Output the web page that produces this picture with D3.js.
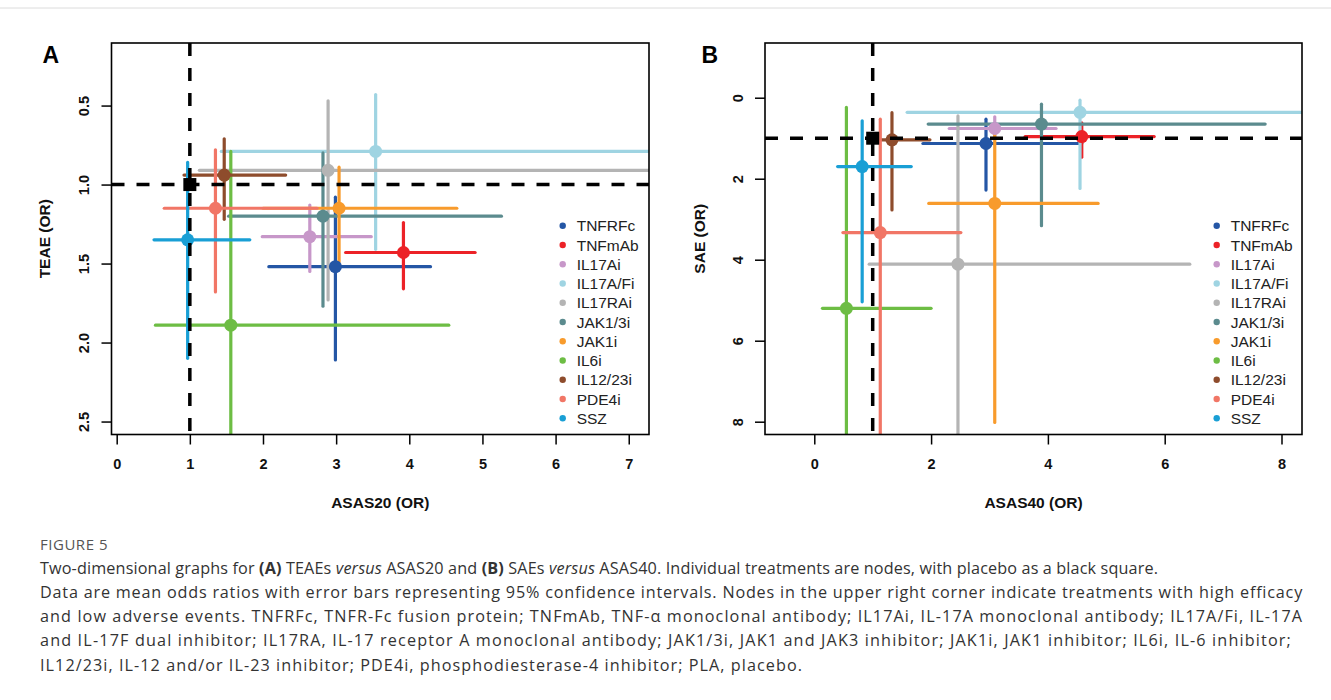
<!DOCTYPE html>
<html>
<head>
<meta charset="utf-8">
<script src="https://cdn.jsdelivr.net/npm/d3@7"></script>
<style>
  html, body { margin: 0; padding: 0; background: #fff; }
  svg { display: block; }
</style>
</head>
<body>
<div id="chart"></div>
<script>
// ---------- DATA ----------
const treatments = ["TNFRFc", "TNFmAb", "IL17Ai", "IL17A/Fi", "IL17RAi", "JAK1/3i", "JAK1i", "IL6i", "IL12/23i", "PDE4i", "SSZ"];
const colors = ["#2456a5", "#ec2227", "#c797c9", "#9fd4e2", "#b4b4b4", "#5b8b8e", "#f89b2c", "#6dbd44", "#8e4c2c", "#f17666", "#199fd5"];

// Panel A: ASAS20 (x) vs TEAE (y), odds ratios with 95% CI
const asas20   = [2.99, 3.92, 2.64, 3.54, 2.89, 2.82, 3.04, 1.56, 1.47, 1.35, 0.97];
const asas20Lo = [2.08, 3.13, 1.99, 1.43, 1.13, 1.53, 2.00, 0.53, 0.92, 0.65, 0.51];
const asas20Hi = [4.29, 4.90, 3.48, 9.00, 8.50, 5.26, 4.65, 4.54, 2.31, 2.74, 1.82];
const teae     = [1.52, 1.43, 1.33, 0.79, 0.91, 1.20, 1.15, 1.89, 0.94, 1.15, 1.35];
const teaeLo   = [1.08, 1.24, 1.13, 0.43, 0.47, 0.80, 0.89, 0.79, 0.71, 0.78, 0.86];
const teaeHi   = [2.11, 1.66, 1.55, 1.41, 1.73, 1.77, 1.49, 3.20, 1.22, 1.68, 2.10];

// Panel B: ASAS40 (x) vs SAE (y)
const asas40   = [2.94, 4.58, 3.09, 4.55, 2.46, 3.89, 3.09, 0.55, 1.33, 1.13, 0.82];
const asas40Lo = [1.86, 3.61, 2.31, 1.59, 0.94, 1.95, 1.96, 0.14, 0.95, 0.49, 0.40];
const asas40Hi = [4.58, 5.82, 4.14, 12.0, 6.43, 7.72, 4.86, 2.00, 1.98, 2.51, 1.66];
const sae      = [1.13, 0.96, 0.76, 0.36, 4.11, 0.65, 2.61, 5.20, 1.04, 3.33, 1.70];
const saeLo    = [0.53, 0.62, 0.47, 0.06, 0.45, 0.16, 0.84, 0.24, 0.37, 0.53, 0.57];
const saeHi    = [2.28, 1.47, 0.95, 2.24, 12.0, 3.16, 8.02, 12.0, 2.77, 12.0, 5.04];

const placebo = [1, 1];

const xTicksA = [0, 1, 2, 3, 4, 5, 6, 7];
const yTicksA = [0.5, 1.0, 1.5, 2.0, 2.5];
const yTickLabelsA = ["0.5", "1.0", "1.5", "2.0", "2.5"];
const xTicksB = [0, 2, 4, 6, 8];
const yTicksB = [0, 2, 4, 6, 8];

const captionTitle = "FIGURE 5";

// ---------- DRAW ----------
const W = 1331, H = 700;
const svg = d3.select("#chart").append("svg").attr("width", W).attr("height", H);
const FONT = "'Liberation Sans', Arial, sans-serif";

svg.append("line").attr("x1", 0).attr("x2", W).attr("y1", 8).attr("y2", 8)
  .attr("stroke", "#dcdcdc").attr("stroke-width", 1);

function panel(cfg) {
  const { id, box, xDom, yDom, xs, xLo, xHi, ys, yLo, yHi, xTicks, yTicks, yTickLabels,
          xTitle, yTitle, letter, letterX, yTickLabelX, yTitleX, legendX } = cfg;
  const x = d3.scaleLinear().domain(xDom).range([box.x0, box.x1]);
  const y = d3.scaleLinear().domain(yDom).range([box.y0, box.y1]);
  const g = svg.append("g");

  g.append("clipPath").attr("id", "clip" + id).append("rect")
    .attr("x", box.x0).attr("y", box.y0).attr("width", box.x1 - box.x0).attr("height", box.y1 - box.y0);
  const pg = g.append("g").attr("clip-path", `url(#clip${id})`);

  const data = treatments.map((t, i) => ({
    t, c: colors[i], x: xs[i], xl: xLo[i], xh: xHi[i], y: ys[i], yl: yLo[i], yh: yHi[i]
  }));

  // CI lines
  data.forEach(d => {
    pg.append("line").attr("x1", x(d.xl)).attr("x2", x(d.xh)).attr("y1", y(d.y)).attr("y2", y(d.y))
      .attr("stroke", d.c).attr("stroke-width", 3.2).attr("stroke-linecap", "round");
    pg.append("line").attr("x1", x(d.x)).attr("x2", x(d.x)).attr("y1", y(d.yl)).attr("y2", y(d.yh))
      .attr("stroke", d.c).attr("stroke-width", 3.2).attr("stroke-linecap", "round");
  });
  // points
  pg.selectAll("circle.pt").data(data).join("circle").attr("class", "pt")
    .attr("cx", d => x(d.x)).attr("cy", d => y(d.y)).attr("r", 6.5).attr("fill", d => d.c);

  // reference dashed lines
  pg.append("line").attr("x1", x(placebo[0])).attr("x2", x(placebo[0])).attr("y1", box.y0).attr("y2", box.y1)
    .attr("stroke", "#000").attr("stroke-width", 3.5).attr("stroke-dasharray", "13,12");
  pg.append("line").attr("x1", box.x0).attr("x2", box.x1).attr("y1", y(placebo[1])).attr("y2", y(placebo[1]))
    .attr("stroke", "#000").attr("stroke-width", 3.5).attr("stroke-dasharray", "13,12");

  // placebo square
  pg.append("rect").attr("x", x(placebo[0]) - 6.5).attr("y", y(placebo[1]) - 6.5)
    .attr("width", 13).attr("height", 13).attr("fill", "#000");

  // box
  g.append("rect").attr("x", box.x0).attr("y", box.y0).attr("width", box.x1 - box.x0).attr("height", box.y1 - box.y0)
    .attr("fill", "none").attr("stroke", "#000").attr("stroke-width", 1.6);

  // x axis
  const xa = g.append("g").attr("transform", `translate(0,${box.y1})`)
    .call(d3.axisBottom(x).tickValues(xTicks).tickSize(10).tickSizeOuter(0).tickPadding(14).tickFormat(d3.format("d")));
  xa.select(".domain").remove();
  xa.selectAll("line").attr("stroke", "#000").attr("stroke-width", 1.5);
  xa.selectAll("text").attr("font-family", FONT).attr("font-weight", "bold").attr("font-size", 14.5).attr("fill", "#111");

  // y axis (custom rotated labels)
  const ya = g.append("g").attr("transform", `translate(${box.x0},0)`)
    .call(d3.axisLeft(y).tickValues(yTicks).tickSize(10).tickSizeOuter(0).tickFormat((d, i) => yTickLabels[i]));
  ya.select(".domain").remove();
  ya.selectAll("line").attr("stroke", "#000").attr("stroke-width", 1.5);
  ya.selectAll("text").remove();
  ya.selectAll(".tick").append("text")
    .attr("transform", `translate(${yTickLabelX - box.x0},0) rotate(-90)`)
    .attr("text-anchor", "middle").attr("dy", "0.35em")
    .attr("font-family", FONT).attr("font-weight", "bold").attr("font-size", 14.5).attr("fill", "#111")
    .text((d, i) => yTickLabels[i]);

  // titles
  g.append("text").attr("x", (box.x0 + box.x1) / 2).attr("y", 503).attr("dy", "0.35em")
    .attr("text-anchor", "middle").attr("font-family", FONT).attr("font-weight", "bold").attr("font-size", 15.5)
    .attr("fill", "#111").text(xTitle);
  g.append("text").attr("transform", `translate(${yTitleX},${(box.y0 + box.y1) / 2}) rotate(-90)`).attr("dy", "0.35em")
    .attr("text-anchor", "middle").attr("font-family", FONT).attr("font-weight", "bold").attr("font-size", 15.5)
    .attr("fill", "#111").text(yTitle);
  g.append("text").attr("x", letterX).attr("y", 63).attr("font-family", FONT).attr("font-weight", "bold")
    .attr("font-size", 23).attr("fill", "#000").text(letter);

  // legend
  const lg = g.append("g");
  data.forEach((d, i) => {
    const ly = 225.7 + i * 19.26;
    lg.append("circle").attr("cx", legendX).attr("cy", ly).attr("r", 3.2).attr("fill", d.c);
    lg.append("text").attr("x", legendX + 14).attr("y", ly).attr("dy", "0.36em")
      .attr("font-family", FONT).attr("font-size", 15.5).attr("fill", "#222").text(d.t);
  });
}

panel({
  id: "A", box: { x0: 111.5, x1: 649, y0: 43, y1: 434.5 },
  xDom: [-0.071, 7.277], yDom: [0.104, 2.582],
  xs: asas20, xLo: asas20Lo, xHi: asas20Hi, ys: teae, yLo: teaeLo, yHi: teaeHi,
  xTicks: xTicksA, yTicks: yTicksA, yTickLabels: yTickLabelsA,
  xTitle: "ASAS20 (OR)", yTitle: "TEAE (OR)", letter: "A", letterX: 42.5,
  yTickLabelX: 83.5, yTitleX: 45, legendX: 562.7
});

panel({
  id: "B", box: { x0: 765, x1: 1302, y0: 43, y1: 434.5 },
  xDom: [-0.844, 8.351], yDom: [-1.351, 8.316],
  xs: asas40, xLo: asas40Lo, xHi: asas40Hi, ys: sae, yLo: saeLo, yHi: saeHi,
  xTicks: xTicksB, yTicks: yTicksB, yTickLabels: yTicksB.map(String),
  xTitle: "ASAS40 (OR)", yTitle: "SAE (OR)", letter: "B", letterX: 701.5,
  yTickLabelX: 738, yTitleX: 700, legendX: 1216.7
});

// ---------- CAPTION ----------
const CAP = "'Open Sans', 'Noto Sans', sans-serif";
const ft = svg.append("text").attr("x", 40).attr("y", 550).attr("font-family", CAP).attr("font-size", 15)
  .attr("fill", "#555").text(captionTitle);
fitWidth(ft, 68);

const captionLines = [
  [["Two-dimensional graphs for ", ""], ["(A)", "b"], [" TEAEs ", ""], ["versus", "i"], [" ASAS20 and ", ""], ["(B)", "b"], [" SAEs ", ""], ["versus", "i"], [" ASAS40. Individual treatments are nodes, with placebo as a black square.", ""]],
  [["Data are mean odds ratios with error bars representing 95% confidence intervals. Nodes in the upper right corner indicate treatments with high efficacy", ""]],
  [["and low adverse events. TNFRFc, TNFR-Fc fusion protein; TNFmAb, TNF-\u03b1 monoclonal antibody; IL17Ai, IL-17A monoclonal antibody; IL17A/Fi, IL-17A", ""]],
  [["and IL-17F dual inhibitor; IL17RA, IL-17 receptor A monoclonal antibody; JAK1/3i, JAK1 and JAK3 inhibitor; JAK1i, JAK1 inhibitor; IL6i, IL-6 inhibitor;", ""]],
  [["IL12/23i, IL-12 and/or IL-23 inhibitor; PDE4i, phosphodiesterase-4 inhibitor; PLA, placebo.", ""]]
];
const capBase = [574, 598, 622, 646, 671];
const capWidths = [1118, 1263, 1263, 1252, 763];
captionLines.forEach((parts, i) => {
  const t = svg.append("text").attr("x", 40).attr("y", capBase[i]).attr("font-family", CAP)
    .attr("font-size", 16.2).attr("fill", "#333");
  parts.forEach(([s, st]) => {
    const ts = t.append("tspan").text(s);
    if (st === "b") ts.attr("font-weight", "bold");
    if (st === "i") ts.attr("font-style", "italic");
  });
  fitWidth(t, capWidths[i]);
});

function fitWidth(sel, target) {
  const node = sel.node();
  const w = node.getComputedTextLength();
  const n = node.textContent.length;
  if (n > 1) sel.attr("letter-spacing", ((target - w) / n).toFixed(3));
}
</script>
</body>
</html>
